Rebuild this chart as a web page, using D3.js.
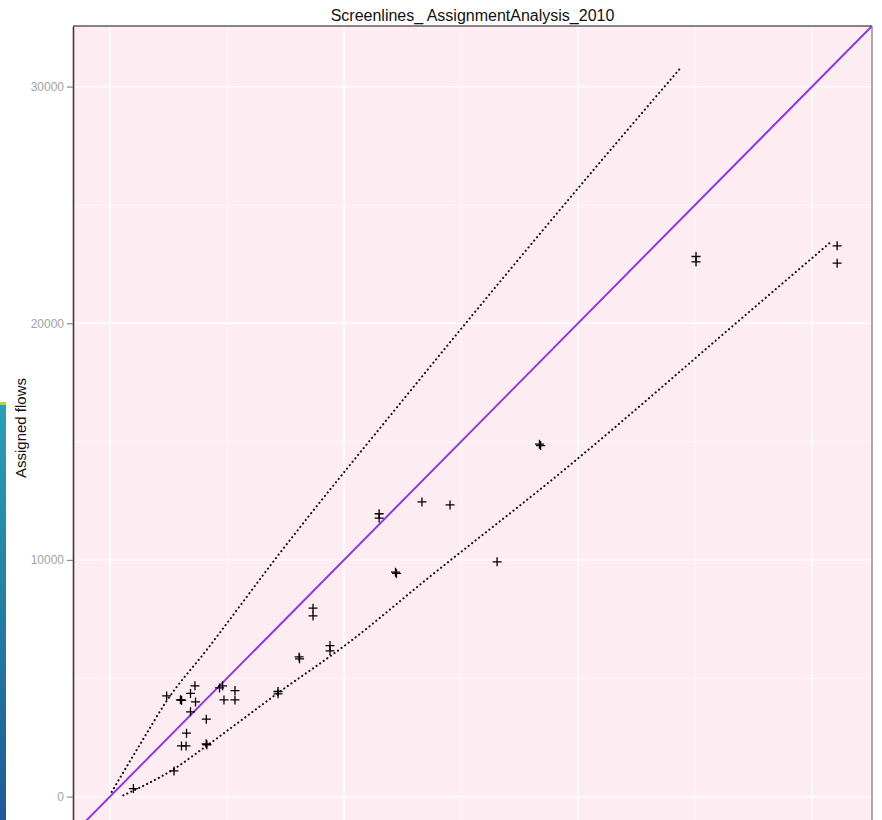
<!DOCTYPE html>
<html>
<head>
<meta charset="utf-8">
<script src="https://cdn.jsdelivr.net/npm/d3@7/dist/d3.min.js"></script>
<style>
  html, body { margin: 0; padding: 0; background: #ffffff; }
  svg { display: block; font-family: "Liberation Sans", Arial, sans-serif; }
</style>
</head>
<body>
<svg id="chart" width="882" height="820"></svg>
<script>
// Screenline counts vs. assigned flows
const chartTitle = "Screenlines_ AssignmentAnalysis_2010";
const yTitle = "Assigned flows";

const countedFlows = [1000, 2735, 2420, 3010, 3060, 3630, 3440, 3655, 3440, 4115,
  3270, 3055, 3250, 4110, 4140, 4680, 4810, 4870, 5340, 5340,
  7180, 7180, 8080, 8100, 8675, 8675, 9400, 9400, 11500, 11500,
  12200, 12240, 13330, 14530, 16540, 18350, 18400, 25040, 25040, 31070, 31070];
const assignedFlows = [340, 1085, 4255, 4090, 4070, 4680, 4360, 4000, 3580, 3270,
  2680, 2140, 2140, 2230, 2190, 4590, 4680, 4085, 4480, 4085,
  4440, 4340, 5900, 5820, 7960, 7635, 6380, 6160, 11950, 11770,
  9480, 9430, 12450, 12325, 9920, 14890, 14830, 22820, 22590, 23270, 22540];

// Acceptable deviation band (upper and lower limits)
const upperBandX = [73, 1355, 2423, 4132, 7265, 12521, 21496, 24432];
const upperBandY = [199, 2324, 4044, 6198, 10297, 16762, 27452, 30845];
const lowerBandX = [568, 2735, 4124, 7167, 10256, 13534, 19231, 26996, 30769];
const lowerBandY = [51, 1170, 2142, 4369, 6550, 9186, 13664, 20214, 23408];

// Axis limits, ticks and gridlines
const axisLimits = [-1581, 32560];
const majorTicks = [0, 10000, 20000, 30000];
const minorTicks = [5000, 15000, 25000];

const svg = d3.select("#chart");
const panel = { left: 73, right: 872, top: 26, bottom: 834 };

const x = d3.scaleLinear().domain(axisLimits).range([panel.left, panel.right]);
const y = d3.scaleLinear().domain(axisLimits).range([panel.bottom, panel.top]);

// thin strip at the far left edge
const grad = svg.append("defs").append("linearGradient")
  .attr("id", "edgeStrip").attr("x1", 0).attr("y1", 0).attr("x2", 0).attr("y2", 1);
grad.append("stop").attr("offset", "0%").attr("stop-color", "#2b9fb3");
grad.append("stop").attr("offset", "100%").attr("stop-color", "#1e5a94");
svg.append("rect").attr("x", 0).attr("y", 404).attr("width", 6).attr("height", 416)
  .attr("fill", "url(#edgeStrip)");
svg.append("rect").attr("x", 0).attr("y", 402).attr("width", 6).attr("height", 3)
  .attr("fill", "#b8d23a");

svg.append("clipPath").attr("id", "panelClip").append("rect")
  .attr("x", panel.left).attr("y", panel.top)
  .attr("width", panel.right - panel.left).attr("height", panel.bottom - panel.top);

// panel background
svg.append("rect")
  .attr("x", panel.left).attr("y", panel.top)
  .attr("width", panel.right - panel.left).attr("height", panel.bottom - panel.top)
  .attr("fill", "#fdedf2");

const grid = svg.append("g").attr("clip-path", "url(#panelClip)");
grid.selectAll("line.vminor").data(minorTicks).join("line")
  .attr("x1", d => x(d)).attr("x2", d => x(d))
  .attr("y1", panel.top).attr("y2", panel.bottom)
  .attr("stroke", "#ffffff").attr("stroke-width", 0.7);
grid.selectAll("line.hminor").data(minorTicks).join("line")
  .attr("y1", d => y(d)).attr("y2", d => y(d))
  .attr("x1", panel.left).attr("x2", panel.right)
  .attr("stroke", "#ffffff").attr("stroke-width", 0.7);
grid.selectAll("line.vmajor").data(majorTicks).join("line")
  .attr("x1", d => x(d)).attr("x2", d => x(d))
  .attr("y1", panel.top).attr("y2", panel.bottom)
  .attr("stroke", "#ffffff").attr("stroke-width", 1.4);
grid.selectAll("line.hmajor").data(majorTicks).join("line")
  .attr("y1", d => y(d)).attr("y2", d => y(d))
  .attr("x1", panel.left).attr("x2", panel.right)
  .attr("stroke", "#ffffff").attr("stroke-width", 1.4);

const plot = svg.append("g").attr("clip-path", "url(#panelClip)");

// 1:1 reference line
plot.append("line")
  .attr("x1", x(axisLimits[0])).attr("y1", y(axisLimits[0]))
  .attr("x2", x(axisLimits[1])).attr("y2", y(axisLimits[1]))
  .attr("stroke", "#8e3bdc").attr("stroke-width", 2);

// deviation band limits
const band = d3.line().x(d => x(d[0])).y(d => y(d[1])).curve(d3.curveMonotoneX);
const upperBand = upperBandX.map((v, i) => [v, upperBandY[i]]);
const lowerBand = lowerBandX.map((v, i) => [v, lowerBandY[i]]);
[upperBand, lowerBand].forEach(pts => {
  plot.append("path").attr("d", band(pts))
    .attr("fill", "none").attr("stroke", "#111")
    .attr("stroke-width", 2.1).attr("stroke-linecap", "round")
    .attr("stroke-dasharray", "0.1 4.3");
});

// screenline observations as "+" markers
const pts = countedFlows.map((v, i) => [v, assignedFlows[i]]);
const arm = 4.5;
plot.selectAll("path.pt").data(pts).join("path")
  .attr("d", d => {
    const cx = x(d[0]), cy = y(d[1]);
    return `M${cx - arm},${cy}H${cx + arm}M${cx},${cy - arm}V${cy + arm}`;
  })
  .attr("stroke", "#000").attr("stroke-width", 1.3).attr("fill", "none");

// panel frame
svg.append("line").attr("x1", panel.left).attr("x2", panel.right)
  .attr("y1", panel.top).attr("y2", panel.top)
  .attr("stroke", "#111").attr("stroke-width", 1.2);
svg.append("line").attr("x1", panel.right).attr("x2", panel.right)
  .attr("y1", panel.top).attr("y2", panel.bottom)
  .attr("stroke", "#8a8a8a").attr("stroke-width", 1.4);

// y axis
const yAxis = d3.axisLeft(y).tickValues(majorTicks).tickSizeInner(6).tickSizeOuter(0)
  .tickPadding(3).tickFormat(d3.format("d"));
const ya = svg.append("g").attr("transform", `translate(${panel.left},0)`).call(yAxis);
ya.select(".domain").attr("stroke", "#3a3a3a").attr("stroke-width", 1.6);
ya.selectAll(".tick line").attr("stroke", "#8a8a8a").attr("stroke-width", 1.2);
ya.selectAll(".tick text").attr("fill", "#a3a3a3").attr("font-size", 12)
  .attr("font-family", "Liberation Sans, Arial, sans-serif");

// titles
svg.append("text")
  .attr("x", (panel.left + panel.right) / 2).attr("y", 21)
  .attr("text-anchor", "middle").attr("font-size", 16).attr("fill", "#111")
  .text(chartTitle);
svg.append("text")
  .attr("transform", `translate(26,${(panel.top + panel.bottom) / 2 - 2}) rotate(-90)`)
  .attr("text-anchor", "middle").attr("font-size", 15).attr("fill", "#111")
  .text(yTitle);
</script>
</body>
</html>
